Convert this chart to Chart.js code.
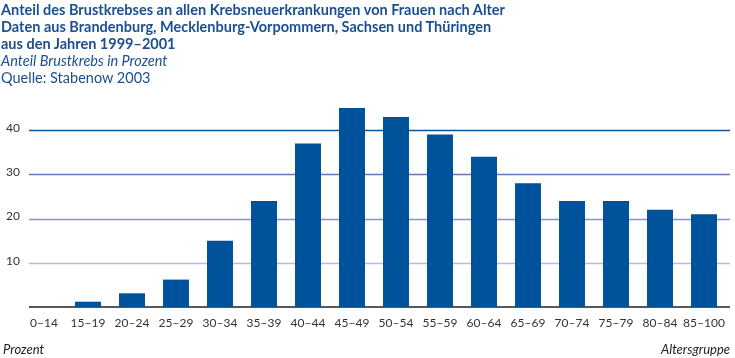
<!DOCTYPE html>
<html><head><meta charset="utf-8">
<script src="https://cdn.jsdelivr.net/npm/chart.js@4"></script>
<style>
html,body{margin:0;padding:0;background:#fff;}
#wrap{position:relative;width:735px;height:358px;overflow:hidden;font-family:Lato,"Open Sans",sans-serif;}
#c{position:absolute;left:0;top:0;}
.t{position:absolute;left:1px;white-space:nowrap;color:#1b4f92;font-size:14.5px;line-height:16px;}
.b{font-weight:bold;}
.i{font-style:italic;}
.f{position:absolute;white-space:nowrap;color:#222;font-style:italic;font-size:13px;line-height:14px;}
</style>
</head><body>
<div id="wrap">
<canvas id="c" width="735" height="358"></canvas>
<div class="t b" style="top:2px">Anteil des Brustkrebses an allen Krebsneuerkrankungen von Frauen nach Alter</div>
<div class="t b" style="top:19px">Daten aus Brandenburg, Mecklenburg-Vorpommern, Sachsen und Thüringen</div>
<div class="t b" style="top:36px">aus den Jahren 1999–2001</div>
<div class="t i" style="top:53px">Anteil Brustkrebs in Prozent</div>
<div class="t" style="top:70px">Quelle: Stabenow 2003</div>
<div class="f" style="left:3px;top:342px">Prozent</div>
<div class="f" style="right:5px;top:342px">Altersgruppe</div>
</div>
<script>
const categories = ["0–14","15–19","20–24","25–29","30–34","35–39","40–44","45–49","50–54","55–59","60–64","65–69","70–74","75–79","80–84","85–100"];
const shareBreastCancer = [0, 1.2, 3.1, 6.2, 15, 24, 37, 45, 43, 39, 34, 28, 24, 24, 22, 21];
const yTickValues = [10, 20, 30, 40];

const gridColors = {10:"#b4bdd7", 20:"#8496c4", 30:"#5d7db6", 40:"#0f549c"};

const gridPlugin = {
  id: "customGrid",
  beforeDatasetsDraw(chart) {
    const ctx = chart.ctx, y = chart.scales.y;
    ctx.save();
    yTickValues.forEach(v => {
      const py = Math.round(y.getPixelForValue(v)) + 0.5;
      ctx.strokeStyle = gridColors[v];
      ctx.lineWidth = 1.4;
      ctx.beginPath(); ctx.moveTo(29, py); ctx.lineTo(730, py); ctx.stroke();
    });
    const py0 = y.getPixelForValue(0);
    ctx.strokeStyle = "#222";
    ctx.lineWidth = 1.5;
    ctx.beginPath(); ctx.moveTo(29, py0); ctx.lineTo(730, py0); ctx.stroke();
    ctx.restore();
  }
};

new Chart(document.getElementById("c"), {
  type: "bar",
  data: {
    labels: categories,
    datasets: [{
      data: shareBreastCancer,
      backgroundColor: "#00529b",
      barPercentage: 26/44,
      categoryPercentage: 1
    }]
  },
  options: {
    responsive: false,
    animation: false,
    layout: { padding: { top: 86, right: 9, left: 0, bottom: 0 } },
    plugins: { legend: { display: false }, tooltip: { enabled: false } },
    scales: {
      x: {
        grid: { display: false, drawTicks: false },
        border: { display: false },
        ticks: { autoSkip: false, maxRotation: 0, padding: 9, color: "#333", font: { family: "Lato", size: 12 } },
        afterFit(s) { s.height = 51; }
      },
      y: {
        min: 0, max: 50,
        grid: { display: false, drawTicks: false },
        border: { display: false },
        ticks: {
          stepSize: 10, padding: 2, labelOffset: -2, color: "#333",
          font: { family: "Lato", size: 12 },
          callback: v => yTickValues.includes(v) ? String(v) : ""
        },
        afterFit(s) { s.width = 22; }
      }
    }
  },
  plugins: [gridPlugin]
});
</script>
</body></html>
